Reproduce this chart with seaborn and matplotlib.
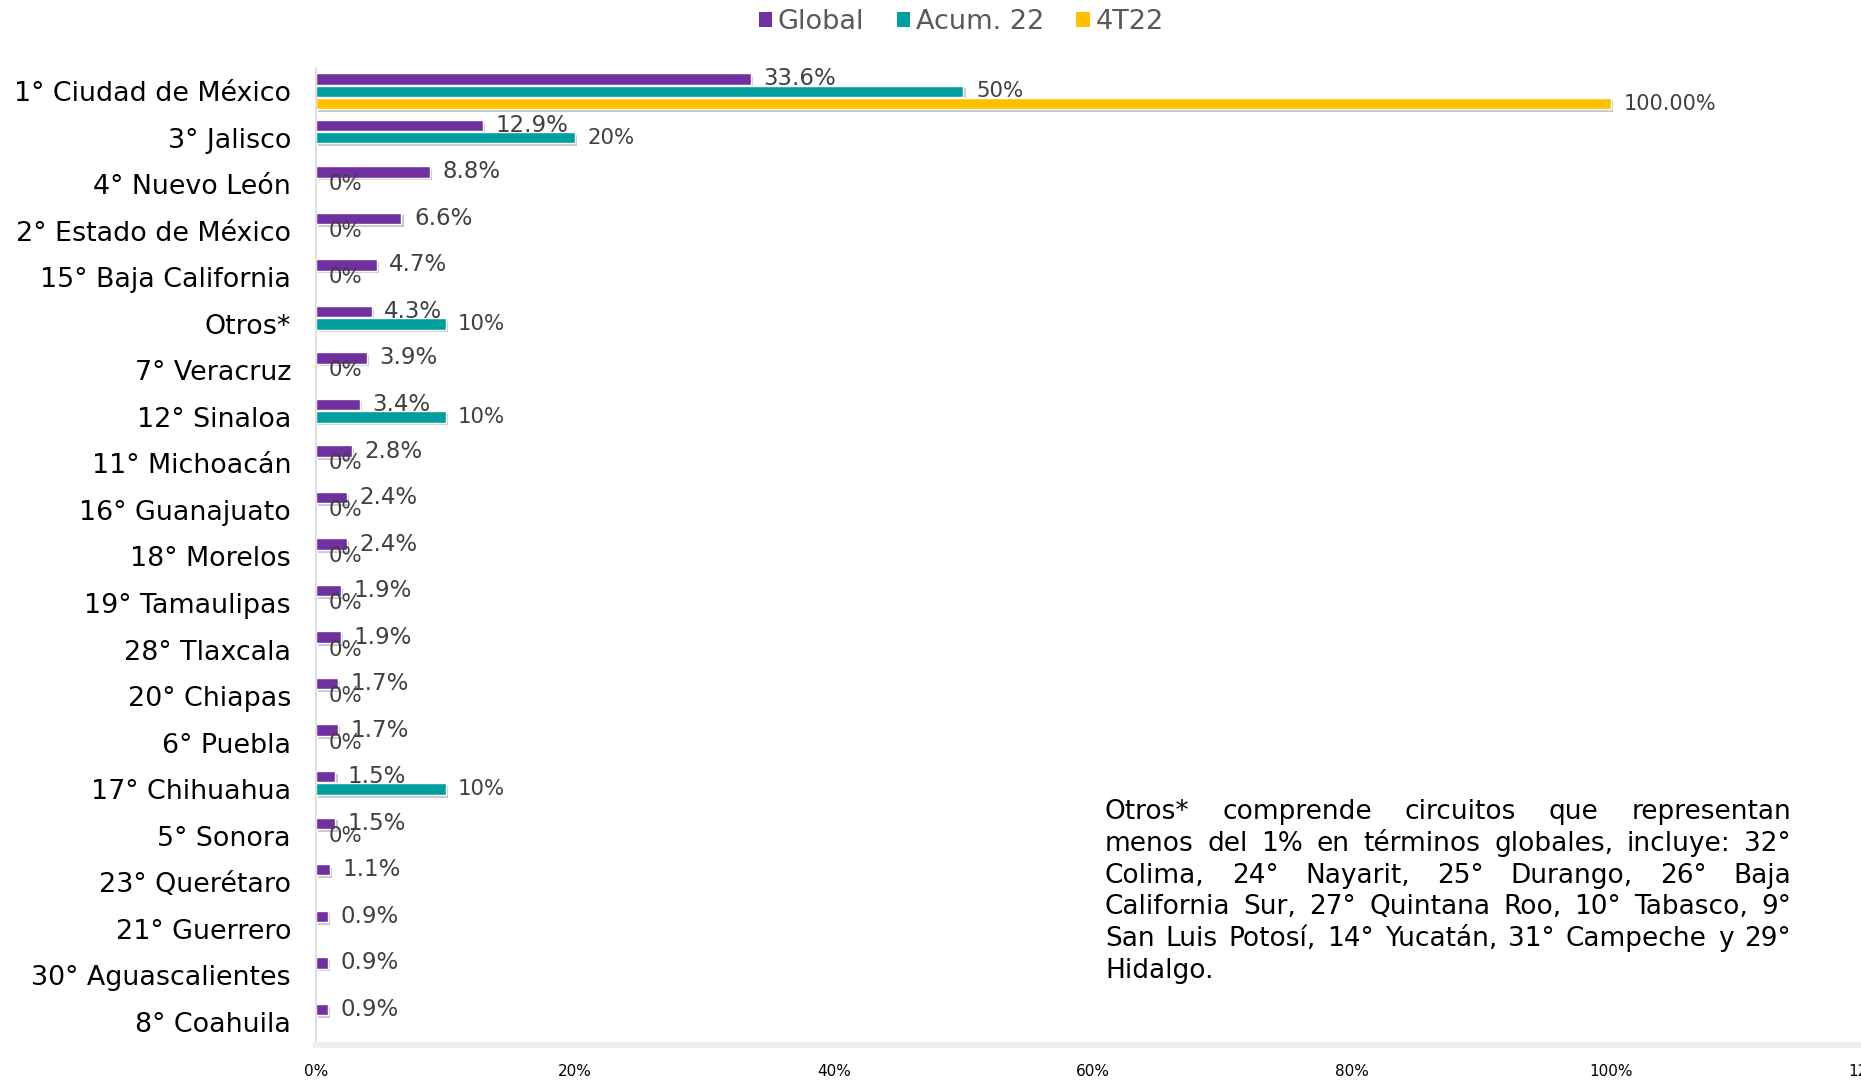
import matplotlib
matplotlib.use("Agg")
import matplotlib.pyplot as plt
import matplotlib.patheffects as pe
from matplotlib.patches import Patch
import pandas as pd
import seaborn as sns

# Datos
estados = ["1° Ciudad de México", "3° Jalisco", "4° Nuevo León", "2° Estado de México",
           "15° Baja California", "Otros*", "7° Veracruz", "12° Sinaloa", "11° Michoacán",
           "16° Guanajuato", "18° Morelos", "19° Tamaulipas", "28° Tlaxcala", "20° Chiapas",
           "6° Puebla", "17° Chihuahua", "5° Sonora", "23° Querétaro", "21° Guerrero",
           "30° Aguascalientes", "8° Coahuila"]
global_pct = [33.6, 12.9, 8.8, 6.6, 4.7, 4.3, 3.9, 3.4, 2.8, 2.4, 2.4, 1.9, 1.9, 1.7,
              1.7, 1.5, 1.5, 1.1, 0.9, 0.9, 0.9]
acum22_pct = [50, 20, 0, 0, 0, 10, 0, 10, 0, 0, 0, 0, 0, 0, 0, 10, 0,
              None, None, None, None]
t4_22_pct = [100] + [None] * 20
series = ["Global", "Acum. 22", "4T22"]
colores = ["#7030A0", "#009E9E", "#FFC000"]
formatos = ["{:.1f}%", "{:.0f}%", "{:.2f}%"]
x_ticks = [0, 20, 40, 60, 80, 100, 120]
nota_lineas = [
    "Otros* comprende circuitos que representan",
    "menos del 1% en términos globales, incluye: 32°",
    "Colima, 24° Nayarit, 25° Durango, 26° Baja",
    "California Sur, 27° Quintana Roo, 10° Tabasco, 9°",
    "San Luis Potosí, 14° Yucatán, 31° Campeche y 29°",
    "Hidalgo.",
]

rows = []
for serie, vals in zip(series, [global_pct, acum22_pct, t4_22_pct]):
    for estado, v in zip(estados, vals):
        if v is not None:
            rows.append({"estado": estado, "serie": serie, "valor": v})
df = pd.DataFrame(rows)

sns.set_style("white")
plt.rcParams['font.family'] = ['DejaVu Sans']

W, H = 1861, 1080
fig = plt.figure(figsize=(W / 100, H / 100), dpi=100)
ax = fig.add_axes([316 / W, 1 - 1045 / H, (1870 - 316) / W, (1045 - 68) / H])

sns.barplot(data=df, x="valor", y="estado", hue="serie", order=estados, hue_order=series,
            palette=colores, orient="h", width=0.8, gap=0.08, saturation=1,
            errorbar=None, legend=False, ax=ax)

for p in ax.patches:
    p.set_path_effects([pe.SimplePatchShadow(offset=(1.5, -2), shadow_rgbFace="black",
                                             alpha=0.22), pe.Normal()])

# Etiquetas de datos
tamanos = [16.5, 15.3, 15.0]
for cont, fmt, size in zip(ax.containers, formatos, tamanos):
    ax.bar_label(cont, fmt=fmt, padding=9, fontsize=size, color="#404040")

ax.set_xlim(0, 120)
ax.set_ylim(len(estados) - 0.5, -0.5)
ax.set_xticks(x_ticks)
ax.set_xticklabels([f"{t}%" for t in x_ticks])
ax.set_xlabel("")
ax.set_ylabel("")
ax.tick_params(axis="x", length=0, pad=14, labelsize=11, labelcolor="black")
ax.tick_params(axis="y", length=0, pad=18, labelsize=19.4, labelcolor="black")
for s in ["top", "right"]:
    ax.spines[s].set_visible(False)
ax.spines["left"].set_color("#D9D9D9")
ax.spines["left"].set_linewidth(1.2)
ax.spines["bottom"].set_color("#EFEFEF")
ax.spines["bottom"].set_linewidth(4.5)

# Leyenda
handles = [Patch(facecolor=c, edgecolor="none") for c in colores]
fig.legend(handles, series, loc="center", bbox_to_anchor=(0.5165, 1 - 22 / H), ncol=3,
           frameon=False, fontsize=19.5, handlelength=0.5, handleheight=0.5,
           handletextpad=0.2, columnspacing=1.2, labelcolor="#595959")

# Nota justificada
fig.canvas.draw()
r = fig.canvas.get_renderer()
x0, x1 = 1105, 1791
for i, linea in enumerate(nota_lineas):
    y = 1 - (812 + i * 31.8) / H
    palabras = linea.split()
    if i == len(nota_lineas) - 1:
        fig.text(x0 / W, y, linea, va="center", fontsize=19, color="black")
        continue
    textos = [fig.text(0, y, p, va="center", fontsize=19, color="black") for p in palabras]
    anchos = [t.get_window_extent(r).width for t in textos]
    hueco = (x1 - x0 - sum(anchos)) / (len(palabras) - 1)
    x = x0
    for t, a in zip(textos, anchos):
        t.set_x(x / W)
        x += a + hueco

fig.savefig("out.png", dpi=100, facecolor="white")
